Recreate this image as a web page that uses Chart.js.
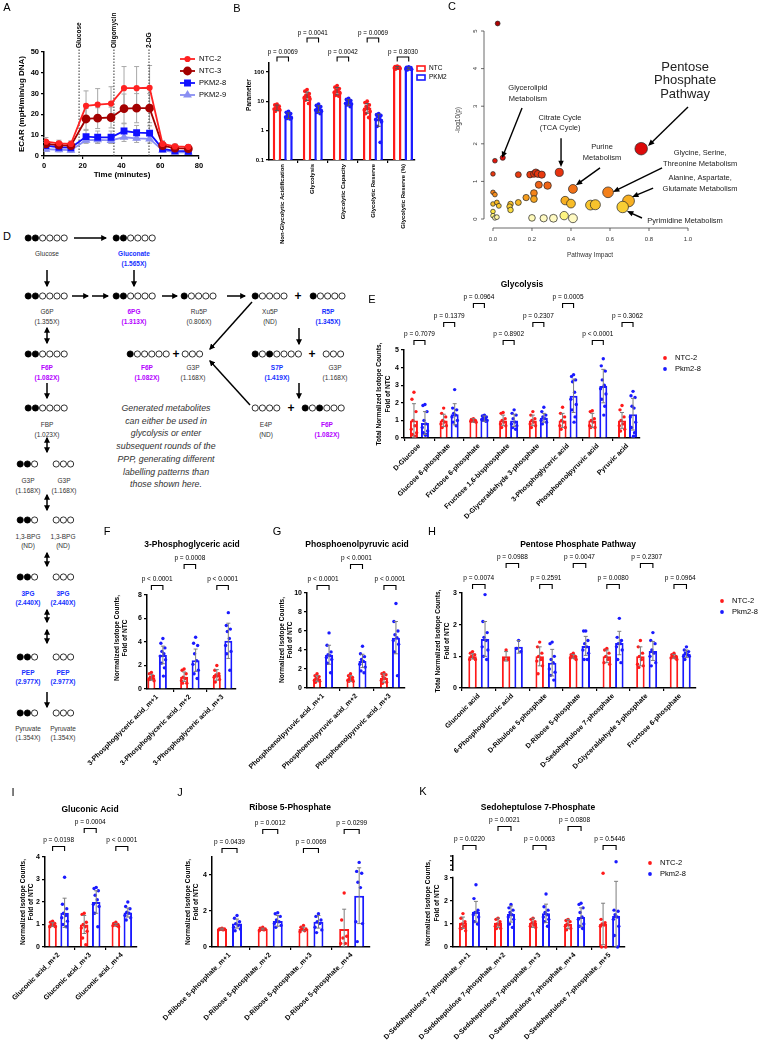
<!DOCTYPE html>
<html>
<head>
<meta charset="utf-8">
<script src="https://cdn.jsdelivr.net/npm/chart.js@4.4.1/dist/chart.umd.min.js"></script>
<style>
body { margin: 0; background: #fff; width: 766px; height: 1046px; position: relative; overflow: hidden; }
canvas { position: absolute; }
#pathway { position: absolute; left: 0; top: 0; }
</style>
</head>
<body>
<svg id="pathway" width="390" height="760"></svg>
<script>
// ---------- A: ECAR trace ----------
const ecarTimes = [1.0, 7.7, 13.9, 21.7, 27.7, 34.6, 41.3, 47.8, 54.5, 61.2, 67.6, 74.5];
const ecarNtc2 = [6.9, 6.1, 5.8, 24.1, 24.7, 25.2, 32.6, 32.6, 32.8, 5.8, 4.6, 4.4];
const ecarNtc3 = [5.8, 5.2, 5.0, 17.8, 18.2, 18.5, 22.8, 23.0, 23.0, 5.0, 3.8, 3.5];
const ecarPkm8 = [5.0, 4.2, 4.0, 9.3, 9.0, 9.0, 12.0, 11.2, 11.0, 3.4, 2.5, 2.3];
const ecarPkm9 = [3.3, 3.0, 2.8, 7.6, 7.8, 7.5, 9.0, 8.5, 8.2, 2.8, 1.8, 1.8];
const ecarNtc2Sd = [2.0, 1.5, 1.5, 7.2, 7.7, 8.1, 10.4, 10.4, 10.7, 1.5, 1.2, 1.0];
const ecarNtc3Sd = [1.5, 1.2, 1.2, 5.0, 5.0, 5.0, 7.0, 7.0, 7.0, 1.2, 1.0, 1.0];
const ecarPkm8Sd = [1.5, 1.2, 1.2, 3.0, 3.0, 3.0, 3.5, 3.5, 3.5, 1.0, 1.0, 1.0];
const ecarPkm9Sd = [1.0, 1.0, 1.0, 1.5, 1.5, 1.5, 2.0, 2.0, 2.0, 1.0, 1.0, 1.0];
const ecarSeries = ['NTC-2', 'NTC-3', 'PKM2-8', 'PKM2-9'];
const injectionNames = ['Glucose', 'Oligomycin', '2-DG'];
const injectionTimes = [18.1, 36.1, 54.2];
const ecarTicksX = [0, 20, 40, 60, 80];
const ecarTicksY = [0, 10, 20, 30, 40, 50];

// ---------- B: glycolytic parameters (log axis) ----------
const paramNames = ['Non-Glycolytic Acidification', 'Glycolysis', 'Glycolytic Capacity', 'Glycolytic Reserve', 'Glycolytic Reserve (%)'];
const paramNtcMean = [6.1, 15.6, 23, 6.1, 140];
const paramPkmMean = [3.3, 5.6, 9.3, 2.5, 132];
const paramNtcSd = [1.3, 5, 6.5, 2.2, 12];
const paramPkmSd = [0.7, 1.4, 2, 1.1, 11];
const paramNtcPts = [
  [8, 7.5, 6.8, 6.2, 5.8, 5.4, 5.0, 4.6, 5.6],
  [25, 22, 18, 16, 15, 13, 12, 11, 8.4],
  [34, 30, 27, 24, 22, 20, 19, 16, 15],
  [10, 9, 7.5, 6.5, 5.8, 5.0, 4.5, 3.8, 2.8],
  [155, 150, 145, 142, 138, 135, 130, 125]
];
const paramPkmPts = [
  [4.5, 4.2, 3.8, 3.4, 3.1, 2.9, 2.7, 2.6, 2.5],
  [8, 7.2, 6.5, 5.8, 5.3, 5.0, 4.6, 4.2, 3.8],
  [12.5, 11.5, 10.5, 9.6, 9.0, 8.5, 8.0, 7.5, 6.6],
  [3.8, 3.5, 3.3, 3.0, 2.7, 2.4, 2.0, 1.4, 0.4],
  [148, 142, 138, 134, 130, 126, 122, 116]
];
const paramP = ['p = 0.0069', 'p = 0.0041', 'p = 0.0042', 'p = 0.0069', 'p = 0.8030'];
const paramTicks = [0.1, 1, 10, 100];

// ---------- C: pathway impact ----------
const pathwayImpact = [0.024, 0.01, 0.05, 0.0, 0.0, 0.01, 0.0, 0.02, 0.03, 0.0, 0.0, 0.01, 0.02,
  0.09, 0.085, 0.09, 0.13, 0.13, 0.17, 0.19, 0.21, 0.22, 0.23, 0.25, 0.21, 0.21, 0.235, 0.28,
  0.34, 0.41, 0.37, 0.40, 0.50, 0.525, 0.59, 0.695, 0.665, 0.76, 0.20, 0.26, 0.31, 0.365, 0.41];
const pathwayLogP = [5.2, 1.55, 1.63, 1.2, 0.71, 0.65, 0.4, 0.44, 0.35, 0.2, 0.09, 0.03, 0.05,
  0.4, 0.33, 0.24, 0.44, 1.18, 0.57, 1.18, 1.2, 1.24, 1.2, 1.18, 0.69, 0.53, 0.91, 0.89,
  1.24, 0.8, 0.49, 0.41, 0.37, 0.38, 0.71, 0.48, 0.32, 1.87, 0.03, 0.02, 0.02, 0.09, 0.02];
const impactTicks = [0, 0.2, 0.4, 0.6, 0.8, 1.0];
const logpTicks = [0, 1, 2, 3, 4, 5];
const pathwayNotes = [
  { text: ['Glycerolipid', 'Metabolism'], at: [0.179, 3.48], from: [0.149, 2.95], to: [0.046, 1.62] },
  { text: ['Citrate Cycle', '(TCA Cycle)'], at: [0.344, 2.69], from: [0.349, 2.15], to: [0.349, 1.38] },
  { text: ['Purine', 'Metabolism'], at: [0.559, 1.91], from: [0.549, 1.36], to: [0.425, 0.9] },
  { text: ['Pentose', 'Phosphate', 'Pathway'], at: [0.985, 4.04], from: [1.0, 2.98], to: [0.795, 1.94], big: true },
  { text: ['Glycine, Serine,', 'Threonine Metabolism'], at: [1.062, 1.755], from: [0.867, 1.36], to: [0.615, 0.72] },
  { text: ['Alanine, Aspartate,', 'Glutamate Metabolism'], at: [1.062, 1.09], from: [0.821, 0.82], to: [0.713, 0.585] },
  { text: ['Pyrimidine Metabolism'], at: [0.985, -0.053], from: [0.764, 0.027], to: [0.687, 0.21] }
];

// ---------- E: glycolysis ----------
const glyNames = ['D-Glucose', 'Glucose 6-phosphate', 'Fructose 6-phosphate', 'Fructose 1,6-bisphosphate', 'D-Glyceraldehyde 3-phosphate', '3-Phosphoglyceric acid', 'Phosphoenolpyruvic acid', 'Pyruvic acid'];
const glyNtcMean = [1, 1, 1, 1, 1, 1, 1, 1];
const glyPkmMean = [0.85, 1.35, 1.1, 1.0, 1.15, 2.4, 2.95, 1.35];
const glyNtcSd = [0.95, 0.35, 0.1, 0.3, 0.3, 0.4, 0.4, 0.45];
const glyPkmSd = [0.65, 0.6, 0.15, 0.35, 0.25, 0.95, 0.95, 0.9];
const glyNtcPts = [
  [2.6, 2.2, 1.5, 1.0, 0.7, 0.5, 0.3, 0.2, 0.1],
  [1.7, 1.4, 1.2, 1.0, 0.9, 0.8, 0.7, 0.6],
  [1.1, 1.05, 1.0, 1.0, 0.95, 0.95, 0.9],
  [1.45, 1.4, 1.1, 1.0, 0.9, 0.8, 0.7, 0.6],
  [1.5, 1.3, 1.1, 1.0, 0.9, 0.8, 0.7, 0.6],
  [1.75, 1.4, 1.2, 1.0, 0.9, 0.7, 0.6, 0.5],
  [1.55, 1.5, 1.1, 1.0, 0.9, 0.7, 0.6, 0.6],
  [1.85, 1.6, 1.2, 1.0, 0.8, 0.7, 0.5, 0.4]
];
const glyPkmPts = [
  [1.9, 1.85, 1.5, 1.0, 0.8, 0.6, 0.4, 0.3, 0.2, 0.15],
  [2.75, 1.7, 1.6, 1.4, 1.3, 1.2, 1.0, 0.9, 0.7],
  [1.3, 1.25, 1.2, 1.15, 1.1, 1.05, 1.0, 1.0, 0.95],
  [1.6, 1.4, 1.3, 1.1, 0.9, 0.8, 0.7, 0.6, 0.5],
  [1.75, 1.5, 1.3, 1.2, 1.1, 1.0, 0.9, 0.8],
  [3.6, 3.5, 3.3, 3.2, 2.6, 2.2, 1.9, 1.6, 1.2, 0.9],
  [4.5, 4.1, 3.8, 3.3, 3.0, 2.8, 2.5, 2.2, 1.8, 1.3],
  [2.65, 2.4, 2.3, 1.8, 1.7, 1.2, 0.9, 0.6, 0.3, 0.1]
];
const glyP = ['p = 0.7079', 'p = 0.1379', 'p = 0.0964', 'p = 0.8902', 'p = 0.2307', 'p = 0.0005', 'p < 0.0001', 'p = 0.3062'];

// ---------- F: 3-phosphoglyceric acid isotopologues ----------
const pgaNames = ['3-Phosphoglyceric acid_m+1', '3-Phosphoglyceric acid_m+2', '3-Phosphoglyceric acid_m+3'];
const pgaNtcMean = [1.0, 1.05, 1.2];
const pgaPkmMean = [2.9, 2.45, 4.1];
const pgaNtcSd = [0.25, 0.4, 0.45];
const pgaPkmSd = [0.75, 0.95, 1.5];
const pgaNtcPts = [[1.4, 1.3, 1.1, 1.0, 0.9, 0.8, 0.7, 0.8], [1.7, 1.6, 1.3, 1.0, 0.9, 0.7, 0.5, 0.5], [2.0, 1.6, 1.3, 1.2, 1.1, 1.0, 0.8, 0.6]];
const pgaPkmPts = [[4.3, 3.9, 3.5, 3.2, 3.0, 2.8, 2.5, 2.2, 1.8, 1.1], [4.4, 3.9, 3.7, 3.0, 2.4, 2.1, 1.6, 1.3, 0.9], [6.5, 5.4, 5.1, 4.9, 4.3, 3.7, 3.2, 3.0, 1.6]];
const pgaP = ['p < 0.0001', 'p = 0.0008', 'p < 0.0001'];

// ---------- G: phosphoenolpyruvic acid isotopologues ----------
const pepNames = ['Phosphoenolpyruvic acid_m+1', 'Phosphoenolpyruvic acid_m+2', 'Phosphoenolpyruvic acid_m+3'];
const pepNtcMean = [1.0, 1.0, 1.05];
const pepPkmMean = [3.5, 2.85, 5.3];
const pepNtcSd = [0.3, 0.3, 0.45];
const pepPkmSd = [1.0, 0.7, 1.7];
const pepNtcPts = [[1.5, 1.3, 1.2, 1.0, 0.9, 0.8, 0.7, 0.6], [1.5, 1.3, 1.1, 1.0, 0.9, 0.8, 0.7, 0.7], [1.6, 1.5, 1.4, 1.2, 1.0, 0.8, 0.6, 0.5]];
const pepPkmPts = [[5.8, 4.5, 3.8, 3.5, 3.4, 3.2, 3.0, 2.6, 1.6], [4.4, 3.6, 3.3, 3.0, 2.8, 2.5, 2.2, 1.8, 1.6], [8.9, 7.0, 6.0, 5.6, 5.3, 5.0, 4.6, 3.8, 1.3]];
const pepP = ['p < 0.0001', 'p < 0.0001', 'p < 0.0001'];

// ---------- H: pentose phosphate pathway ----------
const pppNames = ['Gluconic acid', '6-Phosphogluconic acid', 'D-Ribulose 5-phosphate', 'D-Ribose 5-phosphate', 'D-Sedoheptulose 7-phosphate', 'D-Glyceraldehyde 3-phosphate', 'Fructose 6-phosphate'];
const pppNtcMean = [1.0, 1.0, 1.0, 1.0, 1.0, 1.0, 1.0];
const pppPkmMean = [1.55, 1.3, 0.8, 1.33, 1.42, 1.17, 1.08];
const pppNtcSd = [0.08, 0.15, 0.3, 0.06, 0.2, 0.3, 0.06];
const pppPkmSd = [0.55, 0.2, 0.42, 0.3, 0.37, 0.3, 0.12];
const pppNtcPts = [[1.15, 1.1, 1.05, 1.0, 0.95, 0.9, 0.9], [1.2, 0.9, 0.9], [1.45, 1.3, 1.1, 1.0, 0.9, 0.85, 0.7, 0.45],
  [1.1, 1.05, 1.0, 1.0, 0.95, 0.95, 0.9], [1.25, 1.2, 1.1, 1.0, 0.9, 0.8, 0.75], [1.5, 1.3, 1.1, 1.0, 0.9, 0.75, 0.7, 0.65], [1.1, 1.05, 1.0, 1.0, 0.95, 0.95, 0.9]];
const pppPkmPts = [[2.95, 2.1, 1.75, 1.6, 1.5, 1.3, 1.2, 1.0, 0.9], [1.5, 1.25, 1.15], [1.45, 1.4, 1.0, 0.9, 0.8, 0.6, 0.5, 0.4, 0.25],
  [1.8, 1.8, 1.5, 1.4, 1.3, 1.2, 1.1, 0.9, 0.9], [2.2, 1.6, 1.5, 1.4, 1.4, 1.3, 1.2, 0.9, 0.8], [1.75, 1.5, 1.4, 1.2, 1.1, 1.0, 0.8, 0.7], [1.3, 1.2, 1.15, 1.1, 1.05, 1.0, 1.0, 0.9]];
const pppP = ['p = 0.0074', 'p = 0.0988', 'p = 0.2591', 'p = 0.0047', 'p = 0.0080', 'p = 0.2307', 'p = 0.0964'];

// ---------- I: gluconic acid ----------
const glcNames = ['Gluconic acid_m+2', 'Gluconic acid_m+3', 'Gluconic acid_m+4'];
const glcNtcMean = [1.0, 1.0, 1.0];
const glcPkmMean = [1.52, 2.0, 1.53];
const glcNtcSd = [0.08, 0.4, 0.05];
const glcPkmSd = [0.65, 0.5, 0.2];
const glcNtcPts = [[1.15, 1.1, 1.05, 1.0, 0.95, 0.9, 0.9, 0.95], [1.5, 1.45, 1.1, 1.0, 0.9, 0.85, 0.7, 0.4, 0.1], [1.1, 1.05, 1.0, 1.0, 0.95, 0.95, 0.9]];
const glcPkmPts = [[3.1, 1.9, 1.7, 1.5, 1.4, 1.3, 1.15, 1.0, 0.9], [2.65, 2.6, 2.5, 2.3, 2.1, 1.9, 1.8, 1.5, 0.9], [2.0, 1.8, 1.7, 1.55, 1.5, 1.4, 1.3, 1.2]];
const glcP = ['p = 0.0198', 'p = 0.0004', 'p < 0.0001'];

// ---------- J: ribose 5-phosphate ----------
const r5pNames = ['D-Ribose 5-phosphate_m+1', 'D-Ribose 5-phosphate_m+2', 'D-Ribose 5-phosphate_m+3', 'D-Ribose 5-phosphate_m+4'];
const r5pNtcMean = [1.0, 1.0, 1.0, 1.0];
const r5pPkmMean = [1.3, 1.45, 1.4, 2.85];
const r5pNtcSd = [0.05, 0.05, 0.1, 1.1];
const r5pPkmSd = [0.25, 0.3, 0.35, 1.55];
const r5pNtcPts = [[1.05, 1.0, 1.0, 1.0, 0.95, 0.95], [1.1, 1.05, 1.0, 1.0, 0.95, 0.9], [1.2, 1.1, 1.0, 1.0, 0.9, 0.85], [3.0, 1.5, 0.6, 0.5, 0.2, 0.2]];
const r5pPkmPts = [[1.75, 1.6, 1.4, 1.3, 1.2, 1.1, 1.0, 0.9], [1.9, 1.85, 1.7, 1.5, 1.4, 1.3, 1.2, 1.1], [1.85, 1.7, 1.5, 1.4, 1.3, 1.1, 0.95, 0.8], [4.7, 4.2, 4.1, 3.6, 3.3, 1.4, 1.3, 0.3]];
const r5pP = ['p = 0.0439', 'p = 0.0012', 'p = 0.0069', 'p = 0.0299'];

// ---------- K: sedoheptulose 7-phosphate ----------
const s7pNames = ['D-Sedoheptulose 7-phosphate_m+1', 'D-Sedoheptulose 7-phosphate_m+2', 'D-Sedoheptulose 7-phosphate_m+3', 'D-Sedoheptulose 7-phosphate_m+4', 'D-Sedoheptulose 7-phosphate_m+5'];
const s7pNtcMean = [1.05, 1.05, 1.05, 1.0, 1.0];
const s7pPkmMean = [1.53, 1.43, 1.46, 1.3, 1.35];
const s7pNtcSd = [0.25, 0.2, 0.2, 0.2, 0.9];
const s7pPkmSd = [0.45, 0.35, 0.4, 0.4, 1.5];
const s7pNtcPts = [[1.45, 1.25, 1.1, 1.0, 0.9, 0.8, 0.7, 0.8], [1.25, 1.2, 1.1, 1.0, 0.95, 0.9, 0.8, 0.8], [1.25, 1.2, 1.1, 1.05, 0.95, 0.9, 0.85],
  [1.2, 1.15, 1.1, 1.0, 0.95, 0.9, 0.8, 0.75], [3.2, 1.2, 1.05, 1.0, 0.95, 0.9, 0.0, 0.0]];
const s7pPkmPts = [[2.7, 2.1, 1.6, 1.5, 1.5, 1.4, 1.3, 1.1, 1.0], [1.85, 1.7, 1.6, 1.5, 1.4, 1.3, 1.2, 1.0, 0.85], [2.3, 1.75, 1.6, 1.5, 1.4, 1.3, 1.2, 1.1, 0.9],
  [1.9, 1.85, 1.7, 1.5, 1.3, 1.2, 1.0, 0.9, 0.8], [3.7, 1.6, 1.55, 1.4, 1.3, 1.2, 0.9, 0.5, 0.0]];
const s7pP = ['p = 0.0220', 'p = 0.0021', 'p = 0.0063', 'p = 0.0808', 'p = 0.5446'];

// ---------- drawing helpers ----------
const FONT = "'Liberation Sans', Arial, Helvetica, sans-serif";
const RED = '#ff1a1a';
const BLUE = '#1a1aff';
const JIT = [0, -0.6, 0.6, -0.3, 0.3, -0.8, 0.8, -0.45, 0.45, 0.15, -0.15];

function makeCanvas(box) {
  const c = document.createElement('canvas');
  c.width = box.w;
  c.height = box.h;
  c.style.left = box.x + 'px';
  c.style.top = box.y + 'px';
  document.body.appendChild(c);
  return c;
}

function txt(ctx, s, x, y, size, opt = {}) {
  ctx.save();
  ctx.font = (opt.italic ? 'italic ' : '') + (opt.bold ? 'bold ' : '') + size + 'px ' + FONT;
  ctx.fillStyle = opt.color || '#000';
  ctx.textAlign = opt.align || 'center';
  ctx.textBaseline = 'middle';
  ctx.translate(x, y);
  if (opt.rot) ctx.rotate(opt.rot);
  ctx.fillText(s, 0, 0);
  ctx.restore();
}

function dot(ctx, x, y, r, color) {
  ctx.beginPath();
  ctx.arc(x, y, r, 0, Math.PI * 2);
  ctx.fillStyle = color;
  ctx.fill();
}

function arrowLine(ctx, x1, y1, x2, y2) {
  const ang = Math.atan2(y2 - y1, x2 - x1);
  ctx.beginPath();
  ctx.moveTo(x1, y1);
  ctx.lineTo(x2 - 4 * Math.cos(ang), y2 - 4 * Math.sin(ang));
  ctx.stroke();
  ctx.beginPath();
  ctx.moveTo(x2, y2);
  ctx.lineTo(x2 - 7 * Math.cos(ang - 0.4), y2 - 7 * Math.sin(ang - 0.4));
  ctx.lineTo(x2 - 7 * Math.cos(ang + 0.4), y2 - 7 * Math.sin(ang + 0.4));
  ctx.closePath();
  ctx.fill();
}

function axisStyle(size) {
  return {
    grid: { drawOnChartArea: false, drawTicks: true, tickLength: 3, color: '#000', lineWidth: 1.2 },
    border: { display: true, color: '#000', width: 1.5 },
    ticks: { color: '#000', padding: 2, font: { family: FONT, size: size, weight: 'bold' } }
  };
}

// ---------- A ----------
(function () {
  const box = { x: 0, y: 0, w: 235, h: 190 };
  const area = { l: 44, t: 52, r: 199, b: 156 };
  const pairs = ys => ecarTimes.map((t, i) => ({ x: t, y: ys[i] }));
  const sds = [ecarNtc2Sd, ecarNtc3Sd, ecarPkm8Sd, ecarPkm9Sd];
  const ax = axisStyle(7.5);
  new Chart(makeCanvas(box), {
    type: 'line',
    data: {
      datasets: [
        { label: ecarSeries[0], data: pairs(ecarNtc2), borderColor: '#ff2222', backgroundColor: '#ff2222', borderWidth: 1.8, pointStyle: 'circle', pointRadius: 2.2 },
        { label: ecarSeries[1], data: pairs(ecarNtc3), borderColor: '#a30000', backgroundColor: '#a30000', borderWidth: 1.8, pointStyle: 'circle', pointRadius: 3.5 },
        { label: ecarSeries[2], data: pairs(ecarPkm8), borderColor: '#1010ff', backgroundColor: '#1010ff', borderWidth: 1.8, pointStyle: 'rect', pointRadius: 3.6 },
        { label: ecarSeries[3], data: pairs(ecarPkm9), borderColor: '#8a8ff2', backgroundColor: '#8a8ff2', borderWidth: 1.8, pointStyle: 'triangle', pointRadius: 3.3 }
      ]
    },
    options: {
      responsive: false, animation: false, devicePixelRatio: 1,
      layout: { padding: { left: 0, top: area.t - box.y, right: box.x + box.w - area.r, bottom: 0 } },
      plugins: { legend: { display: false }, tooltip: { enabled: false } },
      scales: {
        x: { type: 'linear', min: 0, max: 80, ...ax,
          afterBuildTicks: s => { s.ticks = ecarTicksX.map(v => ({ value: v })); },
          afterFit: s => { s.height = box.h - area.b; s.paddingLeft = 0; s.paddingRight = 0; } },
        y: { min: 0, max: 50, ...ax,
          afterBuildTicks: s => { s.ticks = ecarTicksY.map(v => ({ value: v })); },
          afterFit: s => { s.width = area.l; s.paddingTop = 0; s.paddingBottom = 0; } }
      }
    },
    plugins: [{
      id: 'ecarDeco',
      beforeDatasetsDraw(chart) {
        const { ctx, scales: { x, y } } = chart;
        ctx.save();
        ctx.strokeStyle = '#a8a8a8';
        ctx.lineWidth = 1;
        chart.data.datasets.forEach((ds, d) => {
          ds.data.forEach((p, i) => {
            const px = x.getPixelForValue(p.x);
            const hi = y.getPixelForValue(p.y + sds[d][i]);
            const lo = y.getPixelForValue(Math.max(0, p.y - sds[d][i]));
            ctx.beginPath();
            ctx.moveTo(px, lo); ctx.lineTo(px, hi);
            ctx.moveTo(px - 2.5, hi); ctx.lineTo(px + 2.5, hi);
            ctx.moveTo(px - 2.5, lo); ctx.lineTo(px + 2.5, lo);
            ctx.stroke();
          });
        });
        // injection markers
        ctx.strokeStyle = '#333';
        ctx.setLineDash([1.5, 1.5]);
        injectionTimes.forEach(t => {
          const px = x.getPixelForValue(t);
          ctx.beginPath();
          ctx.moveTo(px, y.getPixelForValue(0));
          ctx.lineTo(px, chart.chartArea.top - 4);
          ctx.stroke();
        });
        ctx.restore();
      },
      afterDraw(chart) {
        const { ctx, scales: { x } } = chart;
        injectionNames.forEach((n, i) => {
          txt(ctx, n, x.getPixelForValue(injectionTimes[i]), 48, 6.5, { bold: true, align: 'left', rot: -Math.PI / 2 });
        });
        chart.data.datasets.forEach((ds, i) => {
          const ly = 59 + i * 12;
          ctx.save();
          ctx.strokeStyle = ds.borderColor;
          ctx.lineWidth = 1.8;
          ctx.beginPath(); ctx.moveTo(180, ly); ctx.lineTo(195, ly); ctx.stroke();
          ctx.fillStyle = ds.backgroundColor;
          Chart.helpers.drawPoint(ctx, { pointStyle: ds.pointStyle, radius: ds.pointRadius, borderWidth: 1, rotation: 0 }, 187.5, ly);
          ctx.restore();
          txt(ctx, ds.label, 199, ly, 7.5, { align: 'left' });
        });
        txt(ctx, 'A', 7, 8, 11);
        txt(ctx, 'ECAR (mpH/min/ug DNA)', 22, 104, 8, { bold: true, rot: -Math.PI / 2 });
        txt(ctx, 'Time (minutes)', 122, 175, 8, { bold: true });
      }
    }]
  });
})();

// ---------- bar panels with dots, error bars and p brackets ----------
function barPanel(P) {
  const box = P.box, area = P.area;
  const unit = (area.r - area.l) / (P.xRange[1] - P.xRange[0]);
  const cp = 4 * P.barOffset / unit;
  const bp = P.barWidth / (2 * P.barOffset);
  const series = [
    { mean: P.ntc, sd: P.ntcSd, pts: P.ntcPts, color: RED },
    { mean: P.pkm, sd: P.pkmSd, pts: P.pkmPts, color: BLUE }
  ];
  const ax = axisStyle(P.tickSize || 7);
  new Chart(makeCanvas(box), {
    type: 'bar',
    data: {
      datasets: series.map(s => ({
        data: s.mean.map((v, i) => ({ x: i, y: v })),
        backgroundColor: '#fff', borderColor: s.color, borderWidth: P.barBorder || 2,
        categoryPercentage: cp, barPercentage: bp
      }))
    },
    options: {
      responsive: false, animation: false, devicePixelRatio: 1,
      layout: { padding: { left: 0, top: area.t - box.y, right: box.x + box.w - area.r, bottom: 0 } },
      plugins: { legend: { display: false }, tooltip: { enabled: false } },
      scales: {
        x: { type: 'linear', offset: false, min: P.xRange[0], max: P.xRange[1], ...ax,
          ticks: { ...ax.ticks, padding: 1, autoSkip: false, minRotation: P.rot, maxRotation: P.rot, font: { family: FONT, size: P.labelSize || 7, weight: 'bold' }, callback: v => P.names[v] },
          afterBuildTicks: s => { s.ticks = P.names.map((n, i) => ({ value: i })); },
          afterFit: s => { s.height = box.y + box.h - area.b; s.paddingLeft = 0; s.paddingRight = 0; } },
        y: { type: P.log ? 'logarithmic' : 'linear', min: P.yMin, max: P.yMax, ...ax,
          ticks: { ...ax.ticks, callback: v => String(v) },
          afterBuildTicks: s => { s.ticks = P.yTicks.map(v => ({ value: v })); },
          afterFit: s => { s.width = area.l - box.x; s.paddingTop = 0; s.paddingBottom = 0; } }
      }
    },
    plugins: [{
      id: 'barDeco',
      afterDatasetsDraw(chart) {
        const ctx = chart.ctx, ys = chart.scales.y;
        const ox = box.x, oy = box.y;
        const metas = [chart.getDatasetMeta(0).data, chart.getDatasetMeta(1).data];
        series.forEach((s, d) => {
          metas[d].forEach((bar, i) => {
            s.pts[i].forEach((v, k) => {
              dot(ctx, bar.x + JIT[k % JIT.length] * bar.width * 0.42, ys.getPixelForValue(Math.max(v, P.yMin)), P.dotR || 1.7, s.color);
            });
          });
        });
        ctx.save();
        ctx.strokeStyle = P.errColor || '#7d7d7d';
        ctx.lineWidth = 1;
        series.forEach((s, d) => {
          metas[d].forEach((bar, i) => {
            const hi = ys.getPixelForValue(s.mean[i] + s.sd[i]);
            const loV = s.mean[i] - s.sd[i];
            const lo = ys.getPixelForValue(Math.max(loV, P.yMin));
            ctx.beginPath();
            ctx.moveTo(bar.x, lo); ctx.lineTo(bar.x, hi);
            ctx.moveTo(bar.x - 2, hi); ctx.lineTo(bar.x + 2, hi);
            if (loV > P.yMin) { ctx.moveTo(bar.x - 2, lo); ctx.lineTo(bar.x + 2, lo); }
            ctx.stroke();
          });
        });
        // p-value brackets
        ctx.strokeStyle = '#000';
        ctx.lineWidth = 1.1;
        const gap = P.bracketGap || 6.5;
        metas[0].forEach((bar, i) => {
          const x0 = bar.x, x1 = metas[1][i].x;
          const ty = P.pLevels[P.pPattern[i]] - oy;
          txt(ctx, P.pvals[i], (x0 + x1) / 2, ty, P.pSize || 6.5);
          ctx.beginPath();
          ctx.moveTo(x0, ty + gap + 4.5); ctx.lineTo(x0, ty + gap);
          ctx.lineTo(x1, ty + gap); ctx.lineTo(x1, ty + gap + 4.5);
          ctx.stroke();
        });
        ctx.restore();
        txt(ctx, P.letter[0], P.letter[1] - ox, P.letter[2] - oy, 11);
        if (P.title) txt(ctx, P.title[0], P.title[1] - ox, P.title[2] - oy, 8.5, { bold: true });
        P.yTitle.lines.forEach((l, i) => {
          txt(ctx, l, P.yTitle.x[i] - ox, P.yTitle.y - oy, P.yTitle.size || 6.5, { bold: true, rot: -Math.PI / 2 });
        });
        if (P.legend) {
          P.legend.names.forEach((n, i) => {
            const ly = P.legend.y + i * 11 - oy;
            dot(ctx, P.legend.x - ox, ly, 1.9, i ? BLUE : RED);
            txt(ctx, n, P.legend.x + 10 - ox, ly, 7.5, { align: 'left' });
          });
        }
        if (P.extra) P.extra(chart, ctx);
      }
    }]
  });
}

const legendNames = ['NTC-2', 'Pkm2-8'];
const ytNorm = ['Normalized Isotope Counts,', 'Fold of NTC'];
const ytTotal = ['Total Normalized Isotope Counts,', 'Fold of NTC'];

// B
barPanel({
  box: { x: 226, y: 0, w: 240, h: 270 }, area: { l: 269, t: 63, r: 415, b: 160 },
  xRange: [-0.457, 4.4], barOffset: 5.75, barWidth: 8.5, barBorder: 2.5, rot: 90, labelSize: 6, tickSize: 6,
  log: true, yMin: 0.1, yMax: 200, yTicks: paramTicks,
  names: paramNames, ntc: paramNtcMean, pkm: paramPkmMean, ntcSd: paramNtcSd, pkmSd: paramPkmSd,
  ntcPts: paramNtcPts, pkmPts: paramPkmPts, pvals: paramP, pLevels: [52, 33], pPattern: [0, 1, 0, 1, 0],
  bracketGap: 5, pSize: 6.3, dotR: 1.9, errColor: '#555',
  letter: ['B', 237, 9], yTitle: { lines: ['Parameter'], x: [249], y: 95, size: 6.5 },
  extra: (chart, ctx) => {
    const ox = 226;
    ['NTC', 'PKM2'].forEach((n, i) => {
      ctx.save();
      ctx.strokeStyle = i ? BLUE : RED;
      ctx.lineWidth = 1.6;
      ctx.strokeRect(417 - ox, 66 + i * 9, 8, 5);
      ctx.restore();
      txt(ctx, n, 429 - ox, 68.5 + i * 9, 6.5, { align: 'left' });
    });
  }
});

// E
barPanel({
  box: { x: 360, y: 275, w: 406, h: 245 }, area: { l: 404, t: 350, r: 640, b: 438 },
  xRange: [-0.52, 7.42], barOffset: 5.5, barWidth: 8, rot: 45,
  yMin: 0, yMax: 5, yTicks: [0, 1, 2, 3, 4, 5],
  names: glyNames, ntc: glyNtcMean, pkm: glyPkmMean, ntcSd: glyNtcSd, pkmSd: glyPkmSd,
  ntcPts: glyNtcPts, pkmPts: glyPkmPts, pvals: glyP, pLevels: [334, 316, 297], pPattern: [0, 1, 2, 0, 1, 2, 0, 1],
  letter: ['E', 372, 300], title: ['Glycolysis', 522, 285],
  yTitle: { lines: ytTotal, x: [379, 388], y: 394 },
  legend: { names: legendNames, x: 665, y: 358 }
});

// F
barPanel({
  box: { x: 70, y: 525, w: 180, h: 260 }, area: { l: 147, t: 595, r: 236, b: 689 },
  xRange: [-0.31, 2.41], barOffset: 5.75, barWidth: 8, rot: 45,
  yMin: 0, yMax: 8, yTicks: [0, 2, 4, 6, 8],
  names: pgaNames, ntc: pgaNtcMean, pkm: pgaPkmMean, ntcSd: pgaNtcSd, pkmSd: pgaPkmSd,
  ntcPts: pgaNtcPts, pkmPts: pgaPkmPts, pvals: pgaP, pLevels: [579, 558], pPattern: [0, 1, 0],
  letter: ['F', 107, 532], title: ['3-Phosphoglyceric acid', 192, 545],
  yTitle: { lines: ytNorm, x: [117, 125], y: 638 }
});

// G
barPanel({
  box: { x: 230, y: 525, w: 190, h: 260 }, area: { l: 307, t: 593, r: 405, b: 688 },
  xRange: [-0.48, 2.45], barOffset: 6, barWidth: 8, rot: 45,
  yMin: 0, yMax: 10, yTicks: [0, 2, 4, 6, 8, 10],
  names: pepNames, ntc: pepNtcMean, pkm: pepPkmMean, ntcSd: pepNtcSd, pkmSd: pepPkmSd,
  ntcPts: pepNtcPts, pkmPts: pepPkmPts, pvals: pepP, pLevels: [579, 558], pPattern: [0, 1, 0],
  letter: ['G', 277, 532], title: ['Phosphoenolpyruvic acid', 357, 545],
  yTitle: { lines: ytNorm, x: [282, 290], y: 640 }
});

// H
barPanel({
  box: { x: 400, y: 525, w: 366, h: 260 }, area: { l: 462, t: 593, r: 696, b: 688 },
  xRange: [-0.5, 6.47], barOffset: 6.25, barWidth: 8.5, rot: 45,
  yMin: 0, yMax: 3, yTicks: [0, 1, 2, 3],
  names: pppNames, ntc: pppNtcMean, pkm: pppPkmMean, ntcSd: pppNtcSd, pkmSd: pppPkmSd,
  ntcPts: pppNtcPts, pkmPts: pppPkmPts, pvals: pppP, pLevels: [578, 557], pPattern: [0, 1, 0, 1, 0, 1, 0],
  letter: ['H', 432, 532], title: ['Pentose Phosphate Pathway', 578, 545],
  yTitle: { lines: ytTotal, x: [438, 447], y: 641 },
  legend: { names: legendNames, x: 722, y: 601 }
});

// I
barPanel({
  box: { x: 0, y: 785, w: 165, h: 261 }, area: { l: 45, t: 857, r: 137, b: 947 },
  xRange: [-0.43, 2.48], barOffset: 6, barWidth: 8.5, rot: 45,
  yMin: 0, yMax: 4, yTicks: [0, 1, 2, 3, 4],
  names: glcNames, ntc: glcNtcMean, pkm: glcPkmMean, ntcSd: glcNtcSd, pkmSd: glcPkmSd,
  ntcPts: glcNtcPts, pkmPts: glcPkmPts, pvals: glcP, pLevels: [840, 822], pPattern: [0, 1, 0],
  letter: ['I', 13, 793], title: ['Gluconic Acid', 90, 810],
  yTitle: { lines: ytNorm, x: [23, 31], y: 902 }
});

// J
barPanel({
  box: { x: 150, y: 785, w: 270, h: 261 }, area: { l: 212, t: 857, r: 370, b: 947 },
  xRange: [-0.43, 3.45], barOffset: 7.5, barWidth: 10, rot: 45,
  yMin: 0, yMax: 5, yTicks: [0, 2, 4],
  names: r5pNames, ntc: r5pNtcMean, pkm: r5pPkmMean, ntcSd: r5pNtcSd, pkmSd: r5pPkmSd,
  ntcPts: r5pNtcPts, pkmPts: r5pPkmPts, pvals: r5pP, pLevels: [842, 823], pPattern: [0, 1, 0, 1],
  letter: ['J', 180, 793], title: ['Ribose 5-Phosphate', 290, 808],
  yTitle: { lines: ytNorm, x: [188, 196], y: 902 }
});

// K
barPanel({
  box: { x: 375, y: 785, w: 391, h: 261 }, area: { l: 453, t: 856, r: 625, b: 947 },
  xRange: [-0.47, 4.44], barOffset: 6.5, barWidth: 8, rot: 45,
  yMin: 0, yMax: 3.95, yTicks: [0, 1, 2, 3],
  names: s7pNames, ntc: s7pNtcMean, pkm: s7pPkmMean, ntcSd: s7pNtcSd, pkmSd: s7pPkmSd,
  ntcPts: s7pNtcPts, pkmPts: s7pPkmPts, pvals: s7pP, pLevels: [839, 820], pPattern: [0, 1, 0, 1, 0],
  letter: ['K', 423, 792], title: ['Sedoheptulose 7-Phosphate', 538, 808],
  yTitle: { lines: ytNorm, x: [428, 437], y: 903 },
  legend: { names: legendNames, x: 650, y: 863 },
  extra: (chart, ctx) => {
    // broken upper segment of the y axis
    const ys = chart.scales.y, xl = chart.chartArea.left;
    ctx.save();
    ctx.fillStyle = '#fff';
    ctx.fillRect(xl - 2, ys.getPixelForValue(3.3), 4, ys.getPixelForValue(3.05) - ys.getPixelForValue(3.3));
    ctx.strokeStyle = '#000';
    ctx.lineWidth = 1.2;
    [3.35, 3.55, 3.75, 3.95].forEach(v => {
      const py = ys.getPixelForValue(v);
      ctx.beginPath(); ctx.moveTo(xl - 3, py); ctx.lineTo(xl, py); ctx.stroke();
    });
    ctx.restore();
  }
});

// ---------- C: pathway impact bubbles ----------
function heat(v) {
  const stops = [[0, [255, 252, 212]], [0.15, [252, 238, 75]], [0.45, [247, 182, 35]], [0.75, [242, 120, 25]], [1.2, [232, 55, 15]], [1.7, [222, 10, 10]], [5.5, [170, 0, 0]]];
  for (let i = 1; i < stops.length; i++) {
    if (v <= stops[i][0]) {
      const [a, ca] = stops[i - 1], [b, cb] = stops[i];
      const t = Math.max(0, (v - a) / (b - a));
      return 'rgb(' + ca.map((c, j) => Math.round(c + (cb[j] - c) * t)).join(',') + ')';
    }
  }
  return 'rgb(170,0,0)';
}

(function () {
  const box = { x: 440, y: 0, w: 326, h: 265 };
  new Chart(makeCanvas(box), {
    type: 'scatter',
    data: {
      datasets: [{
        data: pathwayImpact.map((v, i) => ({ x: v, y: pathwayLogP[i] })),
        pointRadius: c => 2.3 + 5.2 * pathwayImpact[c.dataIndex],
        pointBackgroundColor: c => heat(pathwayLogP[c.dataIndex]),
        pointBorderColor: '#222', pointBorderWidth: 0.7
      }]
    },
    options: {
      responsive: false, animation: false, devicePixelRatio: 1,
      layout: { padding: { left: 44, right: 66, top: 18, bottom: 37 } },
      plugins: { legend: { display: false }, tooltip: { enabled: false } },
      scales: {
        x: { type: 'linear', display: false, min: -0.046, max: 1.0615 },
        y: { type: 'linear', display: false, min: -0.239, max: 5.346 }
      }
    },
    plugins: [{
      id: 'impactDeco',
      afterDraw(chart) {
        const { ctx, chartArea: a, scales: { x, y } } = chart;
        ctx.save();
        ctx.strokeStyle = '#444';
        ctx.lineWidth = 0.8;
        ctx.beginPath();
        ctx.moveTo(a.left, y.getPixelForValue(0)); ctx.lineTo(a.left, y.getPixelForValue(5));
        logpTicks.forEach(v => { const py = y.getPixelForValue(v); ctx.moveTo(a.left - 3, py); ctx.lineTo(a.left, py); });
        ctx.moveTo(x.getPixelForValue(0), a.bottom); ctx.lineTo(x.getPixelForValue(1), a.bottom);
        impactTicks.forEach(v => { const px = x.getPixelForValue(v); ctx.moveTo(px, a.bottom); ctx.lineTo(px, a.bottom + 3); });
        ctx.stroke();
        ctx.restore();
        logpTicks.forEach(v => txt(ctx, String(v), a.left - 9, y.getPixelForValue(v), 6, { color: '#333', rot: -Math.PI / 2 }));
        impactTicks.forEach(v => txt(ctx, v.toFixed(1), x.getPixelForValue(v), a.bottom + 11, 6, { color: '#333' }));
        txt(ctx, '-log10(p)', 458 - box.x, 120, 6.5, { color: '#333', rot: -Math.PI / 2 });
        txt(ctx, 'Pathway Impact', 590 - box.x, 255, 6.5, { color: '#333' });
        txt(ctx, 'C', 12, 7, 11);
        ctx.save();
        ctx.strokeStyle = '#000';
        ctx.fillStyle = '#000';
        ctx.lineWidth = 1.4;
        pathwayNotes.forEach(n => {
          const tx = x.getPixelForValue(n.at[0]), ty = y.getPixelForValue(n.at[1]);
          n.text.forEach((l, i) => txt(ctx, l, tx, ty + i * (n.big ? 13.5 : 10.5), n.big ? 13 : 7.5, { color: '#222' }));
          arrowLine(ctx, x.getPixelForValue(n.from[0]), y.getPixelForValue(n.from[1]), x.getPixelForValue(n.to[0]), y.getPixelForValue(n.to[1]));
        });
        ctx.restore();
      }
    }]
  });
})();

// ---------- D: labelling scheme (diagram) ----------
(function () {
  const svg = document.getElementById('pathway');
  const NS = 'http://www.w3.org/2000/svg';
  function el(tag, attrs, text) {
    const e = document.createElementNS(NS, tag);
    Object.keys(attrs).forEach(k => e.setAttribute(k, attrs[k]));
    if (text !== undefined) e.textContent = text;
    svg.appendChild(e);
    return e;
  }
  svg.innerHTML = '<defs><marker id="ah" viewBox="0 0 10 10" refX="8" refY="5" markerWidth="4" markerHeight="4" orient="auto-start-reverse"><path d="M0,0 L10,5 L0,10 z" fill="#000"/></marker></defs>';
  const COLORS = { k: '#333', p: '#b300ff', b: '#1530ff' };
  const mols = [
    [25, 238, '110000'], [113, 238, '110000'],
    [25, 296, '110000'], [113, 296, '110000'], [181, 296, '10000'], [252, 296, '10000'], [310, 296, '10000'],
    [25, 354, '110000'], [127, 354, '100000'], [182, 354, '000'], [252, 354, '1010000'], [323, 354, '000'],
    [25, 408, '110000'], [252, 408, '0000'], [302, 408, '101000'],
    [17, 464, '110'], [53, 464, '000'], [17, 520, '110'], [53, 520, '000'],
    [17, 577, '110'], [53, 577, '000'], [17, 657, '110'], [53, 657, '000'], [17, 713, '110'], [53, 713, '000']
  ];
  mols.forEach(([x0, y, pat]) => {
    [...pat].forEach((c, i) => el('circle', { cx: x0 + 3.2 + i * 7.2, cy: y, r: 3.1, fill: c === '1' ? '#000' : '#fff', stroke: '#000', 'stroke-width': 0.8 }));
  });
  [[298, 296], [176, 354], [312, 354], [291, 408]].forEach(([x, y]) => el('text', { x: x, y: y + 4, 'text-anchor': 'middle', 'font-family': FONT, 'font-size': 12, 'font-weight': 'bold' }, '+'));
  const labels = [
    [47, 254, 'Glucose', 'k'], [134, 254, 'Gluconate', 'b'], [134, 264, '(1.565X)', 'b'],
    [47, 312, 'G6P', 'k'], [47, 322, '(1.355X)', 'k'], [134, 312, '6PG', 'p'], [134, 322, '(1.313X)', 'p'],
    [199, 312, 'Ru5P', 'k'], [199, 322, '(0.806X)', 'k'], [270, 312, 'Xu5P', 'k'], [270, 322, '(ND)', 'k'],
    [328, 312, 'R5P', 'b'], [328, 322, '(1.345X)', 'b'],
    [47, 368, 'F6P', 'p'], [47, 378, '(1.082X)', 'p'], [147, 368, 'F6P', 'p'], [147, 378, '(1.082X)', 'p'],
    [193, 368, 'G3P', 'k'], [193, 378, '(1.168X)', 'k'], [277, 368, 'S7P', 'b'], [277, 378, '(1.419X)', 'b'],
    [335, 368, 'G3P', 'k'], [335, 378, '(1.168X)', 'k'],
    [47, 425, 'FBP', 'k'], [47, 435, '(1.023X)', 'k'], [266, 425, 'E4P', 'k'], [266, 435, '(ND)', 'k'],
    [327, 425, 'F6P', 'p'], [327, 435, '(1.082X)', 'p'],
    [28, 481, 'G3P', 'k'], [28, 491, '(1.168X)', 'k'], [64, 481, 'G3P', 'k'], [64, 491, '(1.168X)', 'k'],
    [28, 537, '1,3-BPG', 'k'], [28, 546, '(ND)', 'k'], [63, 537, '1,3-BPG', 'k'], [63, 546, '(ND)', 'k'],
    [28, 594, '3PG', 'b'], [28, 603, '(2.440X)', 'b'], [63, 594, '3PG', 'b'], [63, 603, '(2.440X)', 'b'],
    [28, 673, 'PEP', 'b'], [28, 682, '(2.977X)', 'b'], [63, 673, 'PEP', 'b'], [63, 682, '(2.977X)', 'b'],
    [28, 729, 'Pyruvate', 'k'], [28, 738, '(1.354X)', 'k'], [63, 729, 'Pyruvate', 'k'], [63, 738, '(1.354X)', 'k']
  ];
  labels.forEach(([x, y, s, c]) => el('text', { x: x, y: y + 2.3, 'text-anchor': 'middle', 'font-family': FONT, 'font-size': 6.5, 'font-weight': c === 'k' ? 'normal' : 'bold', fill: COLORS[c] }, s));
  const arrows = [
    [74, 238, 106, 238, 0], [47, 270, 47, 286, 0], [134, 270, 134, 286, 0],
    [72, 296, 88, 296, 0], [92, 296, 108, 296, 0], [162, 296, 177, 296, 0], [227, 296, 245, 296, 0],
    [47, 328, 47, 343, 1], [299, 328, 299, 344, 0], [252, 302, 210, 349, 0],
    [47, 383, 47, 398, 0], [299, 383, 299, 398, 0], [250, 405, 210, 361, 0],
    [47, 438, 47, 452, 1], [47, 495, 47, 510, 1], [47, 553, 47, 566, 1], [47, 610, 47, 622, 1], [47, 630, 47, 643, 1], [47, 692, 47, 707, 0]
  ];
  arrows.forEach(([x1, y1, x2, y2, dbl]) => {
    const a = { x1: x1, y1: y1, x2: x2, y2: y2, stroke: '#000', 'stroke-width': 1.5, 'marker-end': 'url(#ah)' };
    if (dbl) a['marker-start'] = 'url(#ah)';
    el('line', a);
  });
  ['Generated metabolites', 'can either be used in', 'glycolysis or enter', 'subsequent rounds of the',
    'PPP, generating different', 'labelling patterns than', 'those shown here.'].forEach((l, i) => {
    el('text', { x: 166, y: 411 + i * 12.7, 'text-anchor': 'middle', 'font-family': FONT, 'font-size': 8.8, 'font-style': 'italic', fill: '#333' }, l);
  });
  el('text', { x: 3, y: 240, 'font-family': FONT, 'font-size': 11 }, 'D');
})();
</script>
</body>
</html>
